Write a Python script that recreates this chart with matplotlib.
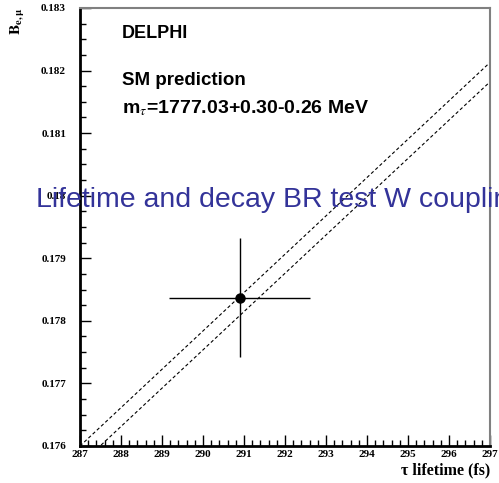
import matplotlib
matplotlib.use("Agg")
import matplotlib.pyplot as plt
from matplotlib.ticker import MultipleLocator
import numpy as np

plt.rcParams['mathtext.fontset'] = 'stix'

# Data
tau_meas = 290.9          # fs
tau_err = 1.72            # fs
b_meas = 0.17837
b_err = 0.00095
band_tau = [287.0, 297.0]
band_upper = [0.17600, 0.18213]
band_lower = [0.17570, 0.18182]
x_ticks = [287, 288, 289, 290, 291, 292, 293, 294, 295, 296, 297]
y_ticks = [0.176, 0.177, 0.178, 0.179, 0.180, 0.181, 0.182, 0.183]
y_tick_labels = ["0.176", "0.177", "0.178", "0.179", "0.18", "0.181", "0.182", "0.183"]

W, H = 499, 483
fig = plt.figure(figsize=(W / 100, H / 100), dpi=100)
L, R, T, B = 80, 490, 8, 446
ax = fig.add_axes([L / W, 1 - B / H, (R - L) / W, (B - T) / H])

ax.plot(band_tau, band_upper, ls=(0, (3, 2.2)), color='black', lw=0.8)
ax.plot(band_tau, band_lower, ls=(0, (3, 2.2)), color='black', lw=0.8)
ax.errorbar([tau_meas], [b_meas], xerr=[tau_err], yerr=[b_err], fmt='o',
            color='black', ms=6.5, elinewidth=1.0, capsize=0)

ax.set_xlim(287, 297)
ax.set_ylim(0.176, 0.183)
ax.set_xticks(x_ticks)
ax.set_yticks(y_ticks)
ax.set_xticklabels([str(t) for t in x_ticks])
ax.set_yticklabels(y_tick_labels)
ax.xaxis.set_minor_locator(MultipleLocator(0.2))
ax.yaxis.set_minor_locator(MultipleLocator(0.00025))
ax.tick_params(axis='both', which='major', direction='in', length=8, width=1, color='black')
ax.tick_params(axis='both', which='minor', direction='in', length=4.5, width=1, color='black')
ax.tick_params(axis='x', which='both', top=False, pad=3)
ax.tick_params(axis='y', which='both', right=False, pad=10)
for lab in ax.get_xticklabels():
    lab.set_fontfamily(['Liberation Serif', 'DejaVu Serif'])
    lab.set_fontweight('bold')
    lab.set_fontsize(8)
for lab in ax.get_yticklabels():
    lab.set_fontfamily(['Liberation Serif', 'DejaVu Serif'])
    lab.set_fontweight('bold')
    lab.set_fontsize(8)

ax.spines['left'].set_linewidth(2)
ax.spines['bottom'].set_linewidth(2)
ax.spines['top'].set_color('#808080')
ax.spines['right'].set_color('#808080')
ax.spines['top'].set_linewidth(1.5)
ax.spines['right'].set_linewidth(1.5)

sans = ['Liberation Sans', 'DejaVu Sans']
fig.text(122 / W, 1 - 38 / H, "DELPHI", fontfamily=sans, fontweight='bold',
         fontsize=13, ha='left', va='baseline')
fig.text(122 / W, 1 - 85 / H, "SM prediction", fontfamily=sans, fontweight='bold',
         fontsize=13.5, ha='left', va='baseline')
fig.text(122 / W, 1 - 113 / H, r"m$_{\tau}$=1777.03+0.30-0.26 MeV", fontfamily=sans,
         fontweight='bold', fontsize=14, ha='left', va='baseline')

fig.text(490 / W, 1 - 474 / H, "\u03c4 lifetime (fs)", fontfamily=['Liberation Serif', 'DejaVu Serif'],
         fontweight='bold', fontsize=11.5, ha='right', va='baseline')
fig.text(18 / W, 1 - 21 / H, r"$\mathbf{B}_{\mathbf{e,\mu}}$", rotation=90,
         fontsize=11, ha='center', va='center')

fig.text(36 / W, 1 - 207 / H, "Lifetime and decay BR test W coupling", fontfamily=sans,
         fontsize=20.5, color='#333399', ha='left', va='baseline')

fig.savefig("out.png", dpi=100)
